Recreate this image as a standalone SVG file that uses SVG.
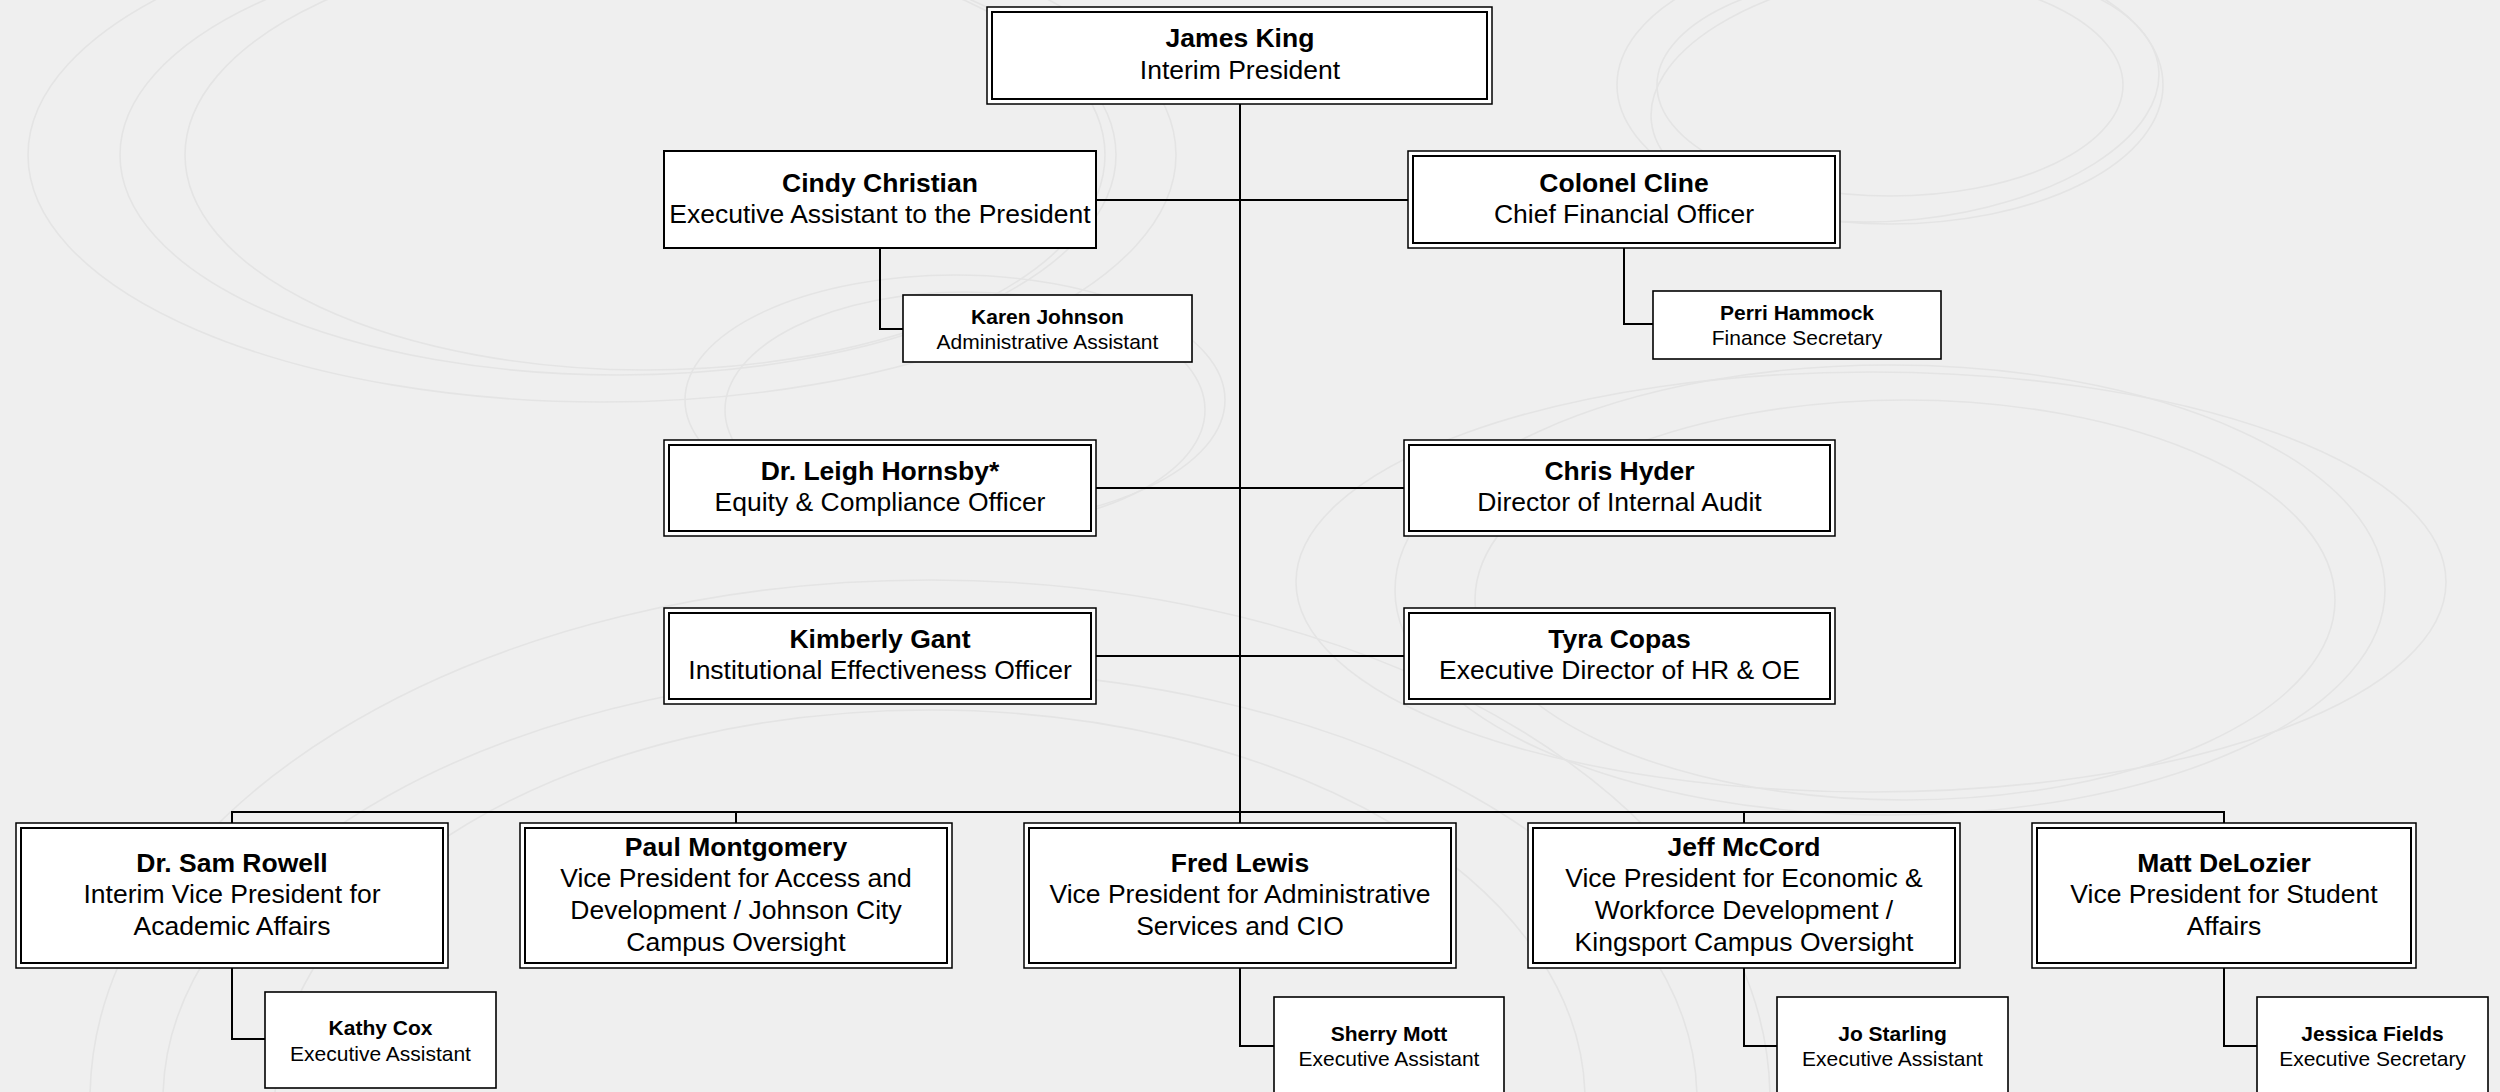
<svg xmlns="http://www.w3.org/2000/svg" width="2500" height="1092" viewBox="0 0 2500 1092">
<style>
.bg{fill:#efefef}
.sw{fill:none;stroke:#e4e4e4;stroke-width:1.6}
.box{fill:#fff;stroke:#000;stroke-width:2}
.dbo{fill:#fff;stroke:#000;stroke-width:1.5}
.dbi{fill:none;stroke:#000;stroke-width:2}
.sm{fill:#fff;stroke:#000;stroke-width:1.6}
.ln{fill:none;stroke:#000;stroke-width:2}
text{font-family:"Liberation Sans",Arial,sans-serif;fill:#000;text-anchor:middle}
.n{font-size:26.5px;font-weight:bold}
.t{font-size:26.5px}
.sn{font-size:21px;font-weight:bold}
.st{font-size:21px}
</style>
<rect class="bg" x="0" y="0" width="2500" height="1092"/>
<g id="background">
<ellipse class="sw" cx="602" cy="155" rx="574" ry="247"/>
<ellipse class="sw" cx="618" cy="155" rx="498" ry="220"/>
<ellipse class="sw" cx="645" cy="155" rx="460" ry="215"/>
<ellipse class="sw" cx="1890" cy="85" rx="273" ry="139"/>
<ellipse class="sw" cx="1890" cy="85" rx="233" ry="111"/>
<ellipse class="sw" cx="1905" cy="95" rx="255" ry="125" transform="rotate(-6 1905 95)"/>
<ellipse class="sw" cx="1871" cy="582" rx="575" ry="210"/>
<ellipse class="sw" cx="1890" cy="590" rx="495" ry="225"/>
<ellipse class="sw" cx="1905" cy="600" rx="430" ry="200"/>
<ellipse class="sw" cx="955" cy="400" rx="270" ry="125"/>
<ellipse class="sw" cx="965" cy="410" rx="240" ry="118"/>
<ellipse class="sw" cx="930" cy="1100" rx="840" ry="520"/>
<ellipse class="sw" cx="930" cy="1100" rx="767" ry="430"/>
<ellipse class="sw" cx="930" cy="1100" rx="655" ry="390"/>
</g>
<g id="connectors">
<path class="ln" d="M1240 104 V823"/>
<path class="ln" d="M1096 200 H1408"/>
<path class="ln" d="M1096 488 H1404"/>
<path class="ln" d="M1096 656 H1404"/>
<path class="ln" d="M232 823 V812 H2224 V823"/>
<path class="ln" d="M736 812 V823"/>
<path class="ln" d="M1744 812 V823"/>
<path class="ln" d="M880 248 V329 H903"/>
<path class="ln" d="M1624 248 V324 H1653"/>
<path class="ln" d="M232 968 V1039 H265"/>
<path class="ln" d="M1240 968 V1046 H1274"/>
<path class="ln" d="M1744 968 V1046 H1777"/>
<path class="ln" d="M2224 968 V1046 H2257"/>
</g>
<g id="james-king">
<rect class="dbo" x="987" y="7" width="505" height="97"/>
<rect class="dbi" x="992" y="12" width="495" height="87"/>
<text class="n" x="1240" y="47">James King</text>
<text class="t" x="1240" y="79">Interim President</text>
</g>
<g id="cindy-christian">
<rect class="box" x="664" y="151" width="432" height="97"/>
<text class="n" x="880" y="192">Cindy Christian</text>
<text class="t" x="880" y="223">Executive Assistant to the President</text>
</g>
<g id="colonel-cline">
<rect class="dbo" x="1408" y="151" width="432" height="97"/>
<rect class="dbi" x="1413" y="156" width="422" height="87"/>
<text class="n" x="1624" y="192">Colonel Cline</text>
<text class="t" x="1624" y="223">Chief Financial Officer</text>
</g>
<g id="karen-johnson">
<rect class="sm" x="903" y="295" width="289" height="67"/>
<text class="sn" x="1047.5" y="323.5">Karen Johnson</text>
<text class="st" x="1047.5" y="349">Administrative Assistant</text>
</g>
<g id="perri-hammock">
<rect class="sm" x="1653" y="291" width="288" height="68"/>
<text class="sn" x="1797" y="319.5">Perri Hammock</text>
<text class="st" x="1797" y="345">Finance Secretary</text>
</g>
<g id="leigh-hornsby">
<rect class="dbo" x="664" y="440" width="432" height="96"/>
<rect class="dbi" x="669" y="445" width="422" height="86"/>
<text class="n" x="880" y="480">Dr. Leigh Hornsby*</text>
<text class="t" x="880" y="511">Equity &amp; Compliance Officer</text>
</g>
<g id="chris-hyder">
<rect class="dbo" x="1404" y="440" width="431" height="96"/>
<rect class="dbi" x="1409" y="445" width="421" height="86"/>
<text class="n" x="1619.5" y="480">Chris Hyder</text>
<text class="t" x="1619.5" y="511">Director of Internal Audit</text>
</g>
<g id="kimberly-gant">
<rect class="dbo" x="664" y="608" width="432" height="96"/>
<rect class="dbi" x="669" y="613" width="422" height="86"/>
<text class="n" x="880" y="648">Kimberly Gant</text>
<text class="t" x="880" y="679">Institutional Effectiveness Officer</text>
</g>
<g id="tyra-copas">
<rect class="dbo" x="1404" y="608" width="431" height="96"/>
<rect class="dbi" x="1409" y="613" width="421" height="86"/>
<text class="n" x="1619.5" y="648">Tyra Copas</text>
<text class="t" x="1619.5" y="679">Executive Director of HR &amp; OE</text>
</g>
<g id="sam-rowell">
<rect class="dbo" x="16" y="823" width="432" height="145"/>
<rect class="dbi" x="21" y="828" width="422" height="135"/>
<text class="n" x="232" y="871.5">Dr. Sam Rowell</text>
<text class="t" x="232" y="903">Interim Vice President for</text>
<text class="t" x="232" y="935">Academic Affairs</text>
</g>
<g id="paul-montgomery">
<rect class="dbo" x="520" y="823" width="432" height="145"/>
<rect class="dbi" x="525" y="828" width="422" height="135"/>
<text class="n" x="736" y="855.5">Paul Montgomery</text>
<text class="t" x="736" y="887">Vice President for Access and</text>
<text class="t" x="736" y="919">Development / Johnson City</text>
<text class="t" x="736" y="950.5">Campus Oversight</text>
</g>
<g id="fred-lewis">
<rect class="dbo" x="1024" y="823" width="432" height="145"/>
<rect class="dbi" x="1029" y="828" width="422" height="135"/>
<text class="n" x="1240" y="871.5">Fred Lewis</text>
<text class="t" x="1240" y="903">Vice President for Administrative</text>
<text class="t" x="1240" y="935">Services and CIO</text>
</g>
<g id="jeff-mccord">
<rect class="dbo" x="1528" y="823" width="432" height="145"/>
<rect class="dbi" x="1533" y="828" width="422" height="135"/>
<text class="n" x="1744" y="855.5">Jeff McCord</text>
<text class="t" x="1744" y="887">Vice President for Economic &amp;</text>
<text class="t" x="1744" y="919">Workforce Development /</text>
<text class="t" x="1744" y="950.5">Kingsport Campus Oversight</text>
</g>
<g id="matt-delozier">
<rect class="dbo" x="2032" y="823" width="384" height="145"/>
<rect class="dbi" x="2037" y="828" width="374" height="135"/>
<text class="n" x="2224" y="871.5">Matt DeLozier</text>
<text class="t" x="2224" y="903">Vice President for Student</text>
<text class="t" x="2224" y="935">Affairs</text>
</g>
<g id="kathy-cox">
<rect class="sm" x="265" y="992" width="231" height="96"/>
<text class="sn" x="380.5" y="1035">Kathy Cox</text>
<text class="st" x="380.5" y="1060.5">Executive Assistant</text>
</g>
<g id="sherry-mott">
<rect class="sm" x="1274" y="997" width="230" height="98"/>
<text class="sn" x="1389" y="1041">Sherry Mott</text>
<text class="st" x="1389" y="1066">Executive Assistant</text>
</g>
<g id="jo-starling">
<rect class="sm" x="1777" y="997" width="231" height="98"/>
<text class="sn" x="1892.5" y="1041">Jo Starling</text>
<text class="st" x="1892.5" y="1066">Executive Assistant</text>
</g>
<g id="jessica-fields">
<rect class="sm" x="2257" y="997" width="231" height="98"/>
<text class="sn" x="2372.5" y="1041">Jessica Fields</text>
<text class="st" x="2372.5" y="1066">Executive Secretary</text>
</g>
</svg>
